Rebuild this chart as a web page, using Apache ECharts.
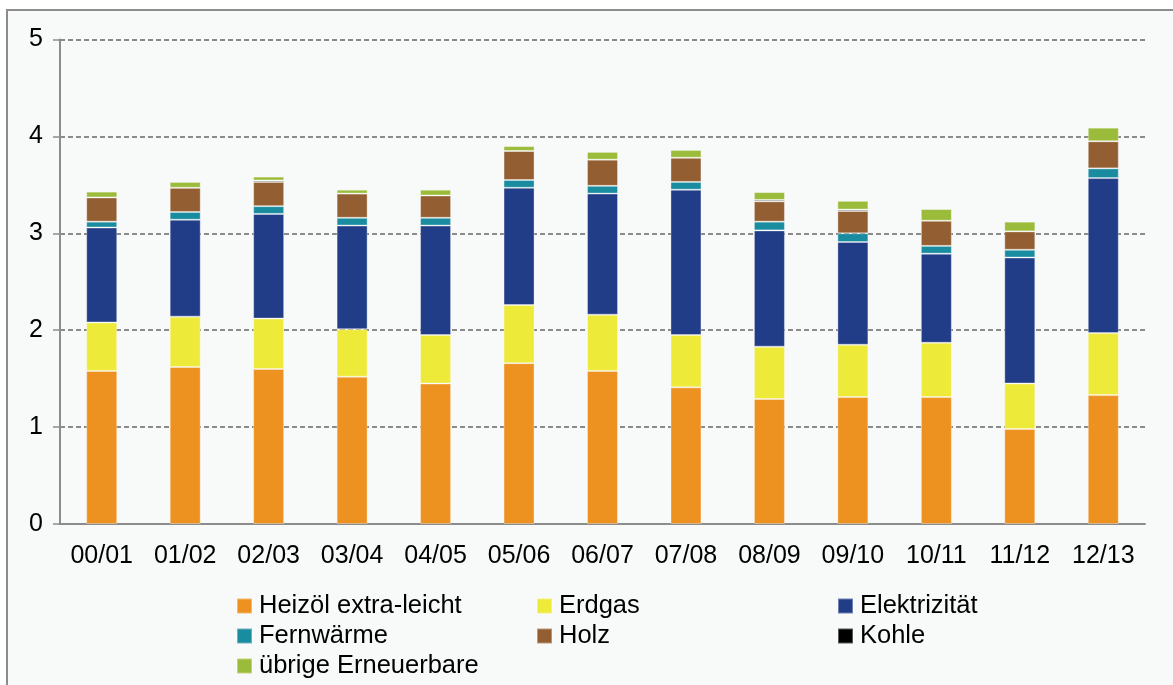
<!DOCTYPE html>
<html>
<head>
<meta charset="utf-8">
<script src="https://cdn.jsdelivr.net/npm/echarts@6/dist/echarts.min.js"></script>
<style>
  html, body { margin: 0; padding: 0; background: #fff; }
  #chart { width: 1173px; height: 685px; }
</style>
</head>
<body>
<div id="chart"></div>
<script>
const years = ["00/01", "01/02", "02/03", "03/04", "04/05", "05/06", "06/07", "07/08", "08/09", "09/10", "10/11", "11/12", "12/13"];
const heizoel = [1.58, 1.62, 1.60, 1.52, 1.45, 1.66, 1.58, 1.41, 1.29, 1.31, 1.31, 0.98, 1.33];
const erdgas = [0.50, 0.52, 0.52, 0.49, 0.50, 0.60, 0.58, 0.54, 0.54, 0.54, 0.56, 0.47, 0.64];
const elektrizitaet = [0.98, 1.00, 1.08, 1.07, 1.13, 1.21, 1.25, 1.50, 1.20, 1.06, 0.92, 1.30, 1.60];
const fernwaerme = [0.06, 0.08, 0.08, 0.08, 0.08, 0.08, 0.08, 0.08, 0.09, 0.09, 0.08, 0.08, 0.10];
const holz = [0.25, 0.25, 0.25, 0.25, 0.23, 0.30, 0.27, 0.25, 0.21, 0.23, 0.26, 0.19, 0.28];
const kohle = [0, 0, 0.015, 0, 0, 0, 0, 0, 0.015, 0.015, 0, 0, 0];
const uebrige = [0.06, 0.06, 0.04, 0.04, 0.06, 0.05, 0.08, 0.08, 0.08, 0.09, 0.12, 0.10, 0.14];

const font = "Liberation Sans, Arial, sans-serif";
const chart = echarts.init(document.getElementById("chart"));

const mk = (name, data, color) => ({
  name: name,
  type: "bar",
  stack: "total",
  data: data,
  barWidth: 31,
  itemStyle: { color: color, borderColor: "rgba(255,255,255,0.35)", borderWidth: 1 },
  emphasis: { disabled: true }
});

const legendBase = {
  orient: "vertical",
  top: 588,
  itemWidth: 15,
  itemHeight: 15,
  itemGap: 4,
  icon: "rect",
  textStyle: { fontFamily: font, fontSize: 25.5, color: "#000", lineHeight: 25.5, padding: [0, 0, 0, 2] },
  selectedMode: false
};

chart.setOption({
  backgroundColor: "#fff",
  animation: false,
  graphic: [{
    type: "rect",
    z: -10,
    shape: { x: 7, y: 10, width: 1200, height: 700 },
    style: { fill: "#f8f9f9", stroke: "#8c8c8c", lineWidth: 2 }
  }],
  grid: { left: 60, right: 28, top: 39.5, bottom: 161 },
  legend: [
    Object.assign({ left: 231, data: ["Heizöl extra-leicht", "Fernwärme", "übrige Erneuerbare"] }, legendBase),
    Object.assign({ left: 531, data: ["Erdgas", "Holz"] }, legendBase),
    Object.assign({ left: 832, data: ["Elektrizität", "Kohle"] }, legendBase)
  ],
  xAxis: {
    type: "category",
    data: years,
    axisLine: { lineStyle: { color: "#8c8c8c", width: 2 } },
    axisTick: { length: 9, lineStyle: { color: "#8c8c8c", width: 1.5 } },
    axisLabel: { fontFamily: font, fontSize: 25, color: "#000", margin: 20 }
  },
  yAxis: {
    type: "value",
    min: 0,
    max: 5,
    interval: 1,
    axisLine: { show: true, lineStyle: { color: "#8c8c8c", width: 2 } },
    axisTick: { show: true, length: 7, lineStyle: { color: "#8c8c8c", width: 1.5 } },
    axisLabel: { fontFamily: font, fontSize: 25, color: "#000", margin: 17 },
    splitLine: { lineStyle: { color: "#8a8a8a", width: 2, type: [5, 3] } }
  },
  series: [
    mk("Heizöl extra-leicht", heizoel, "#ed9220"),
    mk("Erdgas", erdgas, "#eeea3a"),
    mk("Elektrizität", elektrizitaet, "#223d87"),
    mk("Fernwärme", fernwaerme, "#1a8ca0"),
    mk("Holz", holz, "#935f32"),
    mk("Kohle", kohle, "#000000"),
    mk("übrige Erneuerbare", uebrige, "#9bbb3b")
  ]
});
</script>
</body>
</html>
